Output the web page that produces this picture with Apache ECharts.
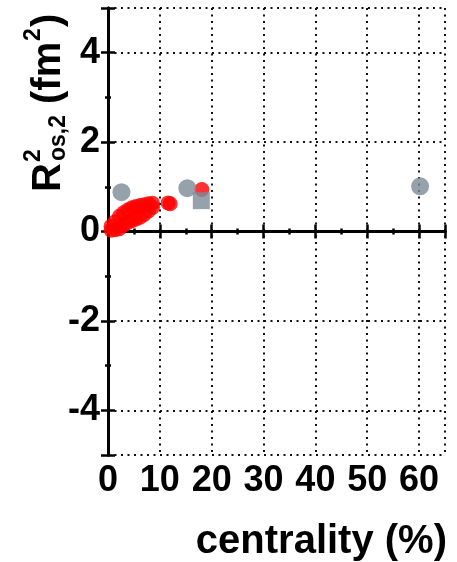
<!DOCTYPE html>
<html>
<head>
<meta charset="utf-8">
<script src="https://cdn.jsdelivr.net/npm/echarts@6/dist/echarts.min.js"></script>
<style>
  html, body { margin: 0; padding: 0; background: #fff; }
  #chart { width: 457px; height: 562px; }
</style>
</head>
<body>
<div id="chart"></div>
<script>
// Red measurements, upper branch: centrality (%) and R^2_os,2 (fm^2)
const redUpperCentrality = [0.6, 1.4, 2.2, 3.0, 3.8, 4.6, 5.4, 6.2, 7.0, 7.8, 8.6, 11.6, 12.0];
const redUpperValues     = [0.12, 0.22, 0.34, 0.42, 0.48, 0.53, 0.56, 0.58, 0.60, 0.62, 0.63, 0.64, 0.62];

// Red measurements, lower branch
const redLowerCentrality = [0.6, 1.4, 2.2, 3.0, 3.8, 4.6, 5.4, 6.2, 7.0, 7.8, 8.6, 18.1];
const redLowerValues     = [0.03, 0.04, 0.06, 0.14, 0.20, 0.24, 0.28, 0.32, 0.38, 0.46, 0.54, 0.94];

// Grey circle measurements
const greyCircleCentrality = [2.6, 15.3, 60.2];
const greyCircleValues     = [0.88, 0.97, 1.01];

// Grey square measurement
const greySquareCentrality = [18.0];
const greySquareValues     = [0.69];

// Axis ranges and labelled ticks
const xRange = [0, 65];
const xMajorStep = 10;
const xMinorStep = 5;
const yRange = [-5, 5];
const yLabelValues = [-4, -2, 0, 2, 4];

const FONT = '"Liberation Sans", Arial, sans-serif';
const INK = '#000';
const GREY = '#7a8b97';
const RED = '#ff0000';

const zip = (xs, ys) => xs.map((x, i) => [x, ys[i]]);

const frameLine = { show: true, lineStyle: { color: INK, width: 3 } };
const majorTick = { show: true, inside: true, length: 7, lineStyle: { color: INK, width: 2.5 } };
const minorTickAsMain = { show: true, inside: true, length: 3, lineStyle: { color: INK, width: 2.5 } };
const dotted = { show: true, lineStyle: { color: '#111', width: 2, type: [2, 4.5] } };

function xAxisDef(position, step, tick, withLabels, withSplit) {
  return {
    type: 'value', position, min: xRange[0], max: xRange[1], interval: step,
    axisLine: frameLine,
    axisTick: tick,
    axisLabel: withLabels ? {
      show: true, margin: 8, color: INK, fontFamily: FONT, fontWeight: 'bold', fontSize: 36,
      formatter: v => (v % xMajorStep === 0 ? String(v) : '')
    } : { show: false },
    splitLine: withSplit ? dotted : { show: false },
    minorTick: { show: false }
  };
}

function yAxisMajor(position, withLabels, withSplit) {
  return {
    type: 'value', position, min: yRange[0], max: yRange[1], splitNumber: 5,
    axisLine: frameLine,
    axisTick: majorTick,
    axisLabel: withLabels ? {
      show: true, margin: 8, color: INK, fontFamily: FONT, fontWeight: 'bold', fontSize: 36,
      formatter: v => (yLabelValues.indexOf(v) >= 0 ? String(v) : '')
    } : { show: false },
    splitLine: withSplit ? dotted : { show: false }
  };
}

function yAxisMinor(position) {
  return {
    type: 'value', position, min: yRange[0], max: yRange[1], interval: 1,
    axisLine: { show: false },
    axisTick: minorTickAsMain,
    axisLabel: { show: false },
    splitLine: { show: false }
  };
}

// Rotated y-axis title: R^2_{os,2} (fm^2), built piece by piece in a rotated group
const titleMain = { fontFamily: FONT, fontWeight: 'bold', fontSize: 40, fill: INK, verticalAlign: 'middle', align: 'left' };
const titleSmall = { fontFamily: FONT, fontWeight: 'bold', fontSize: 23, fill: INK, verticalAlign: 'middle', align: 'left' };
const titlePieces = [
  { text: 'R', x: 0, y: 0, s: titleMain },
  { text: '2', x: 30, y: -15, s: titleSmall },
  { text: 'os,2', x: 31, y: 10, s: titleSmall },
  { text: '(fm', x: 88, y: 0, s: titleMain },
  { text: '2', x: 151, y: -15, s: titleSmall },
  { text: ')', x: 165, y: 0, s: titleMain }
];

const redStyle = { color: RED };

const chart = echarts.init(document.getElementById('chart'), null, { renderer: 'canvas' });
chart.setOption({
  animation: false,
  backgroundColor: '#fff',
  grid: { left: 108, right: 12, top: 8, bottom: 107, containLabel: false, show: false },
  xAxis: [
    xAxisDef('bottom', xMajorStep, majorTick, true, true),
    xAxisDef('bottom', xMinorStep, minorTickAsMain, false, false),
    xAxisDef('top', xMajorStep, majorTick, false, false),
    xAxisDef('top', xMinorStep, minorTickAsMain, false, false)
  ],
  yAxis: [
    yAxisMajor('left', true, true),
    yAxisMinor('left'),
    yAxisMajor('right', false, false),
    yAxisMinor('right')
  ],
  series: [
    {
      name: 'red upper', type: 'scatter', xAxisIndex: 0, yAxisIndex: 0,
      symbol: 'circle', symbolSize: 15, itemStyle: redStyle,
      data: zip(redUpperCentrality, redUpperValues), z: 3
    },
    {
      name: 'red lower', type: 'scatter', xAxisIndex: 0, yAxisIndex: 0,
      symbol: 'circle', symbolSize: 15, itemStyle: redStyle,
      data: zip(redLowerCentrality, redLowerValues), z: 3
    },
    {
      name: 'grey circle', type: 'scatter', xAxisIndex: 0, yAxisIndex: 0,
      symbol: 'circle', symbolSize: 18,
      itemStyle: { color: GREY },
      data: zip(greyCircleCentrality, greyCircleValues), z: 4
    },
    {
      name: 'grey square', type: 'scatter', xAxisIndex: 0, yAxisIndex: 0,
      symbol: 'rect', symbolSize: 17,
      itemStyle: { color: GREY },
      data: zip(greySquareCentrality, greySquareValues), z: 4
    }
  ],
  graphic: [
    {
      type: 'group', x: 49, y: 192, rotation: Math.PI / 2,
      children: titlePieces.map(p => ({
        type: 'text', x: p.x, y: p.y,
        style: Object.assign({ text: p.text }, p.s)
      }))
    },
    {
      type: 'text', x: 447, y: 542,
      style: { text: 'centrality (%)', fontFamily: FONT, fontWeight: 'bold', fontSize: 40, fill: INK, align: 'right', verticalAlign: 'middle' }
    }
  ]
});
</script>
</body>
</html>
